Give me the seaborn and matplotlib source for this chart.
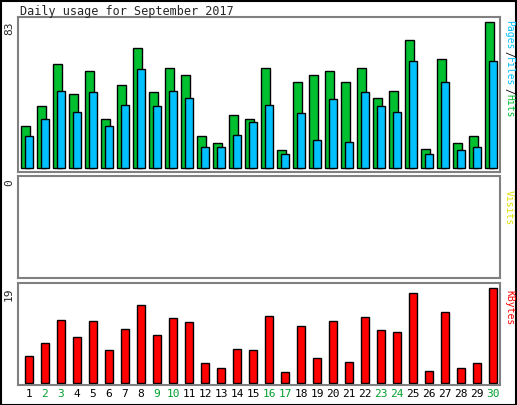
import matplotlib
matplotlib.use("Agg")
import matplotlib.pyplot as plt
import seaborn as sns
import numpy as np

days = list(range(1, 31))
hits = [24,35,59,42,55,28,47,68,43,57,53,18,14,30,28,57,10,49,53,55,49,57,40,44,73,11,62,14,18,83]
files = [18,28,44,32,43,24,36,56,35,44,40,12,12,19,26,36,8,31,16,39,15,43,35,32,61,8,49,10,12,61]
kbytes = [5.4,8,12.6,9.2,12.4,6.6,10.8,15.6,9.6,13,12.2,4,3,6.8,6.6,13.4,2.2,11.4,5,12.4,4.2,13.2,10.6,10.2,18,2.4,14.2,3,4,19]
weekend = [2,3,9,10,16,17,23,24,30]

sns.set_style("white")
plt.rcParams['font.family'] = ['DejaVu Sans Mono']
W, H = 517, 405
fig = plt.figure(figsize=(W/100, H/100), dpi=100)
fig.patch.set_facecolor("white")

def ax_px(x0, y0, x1, y1):
    return fig.add_axes([x0/W, 1-y1/H, (x1-x0)/W, (y1-y0)/H])

x = np.array(days)
xl = (0.31, 30.44)
a1 = ax_px(18, 17, 500, 172)
a1.bar(x-0.22, hits, width=0.56, color="#00c030", edgecolor="black", linewidth=1)
a1.bar(x, files, width=0.5, color="#00c0ff", edgecolor="black", linewidth=1)
a1.set_xlim(*xl); a1.set_ylim(-2.3, 85.8)
a2 = ax_px(18, 176, 500, 278)
a2.set_xlim(*xl); a2.set_ylim(0, 1)
a3 = ax_px(18, 283, 500, 385)
a3.bar(x, kbytes, width=0.5, color="#ff0000", edgecolor="black", linewidth=1)
a3.set_xlim(*xl); a3.set_ylim(-0.4, 20)
for a in (a1, a2, a3):
    a.set_xticks([]); a.set_yticks([])
    for s in a.spines.values():
        s.set_color("#808080"); s.set_linewidth(1.5)

fig.text(20/W, 1-11/H, "Daily usage for September 2017", fontsize=8.5, va="center", ha="left")
fig.text(9/W, 1-28/H, "83", rotation=90, fontsize=8, ha="center", va="center")
fig.text(9/W, 1-183/H, "0", rotation=90, fontsize=8, ha="center", va="center")
fig.text(9/W, 1-294/H, "19", rotation=90, fontsize=8, ha="center", va="center")
yy = 20
for t, c in [("Pages", "#00c0ff"), ("/", "black"), ("Files", "#00c0ff"), ("/", "black"), ("Hits", "#00c030")]:
    fig.text(509/W, 1-yy/H, t, rotation=-90, fontsize=7, color=c, ha="center", va="top")
    yy += len(t)*6.2
fig.text(509/W, 1-190/H, "Visits", rotation=-90, fontsize=7, color="#e0e000", ha="center", va="top")
fig.text(509/W, 1-290/H, "KBytes", rotation=-90, fontsize=7, color="#ff0000", ha="center", va="top")
for d in days:
    fig.text((29+16*(d-1))/W, 1-394/H, str(d), fontsize=8, ha="center", va="center",
             color="#00a030" if d in weekend else "black")
border = plt.Rectangle((0.5/W, 0.5/H), 1-1.5/W, 1-1.5/H, transform=fig.transFigure, fill=False, edgecolor="black", linewidth=1.5)
fig.patches.append(border)
fig.savefig("out.png", dpi=100)
